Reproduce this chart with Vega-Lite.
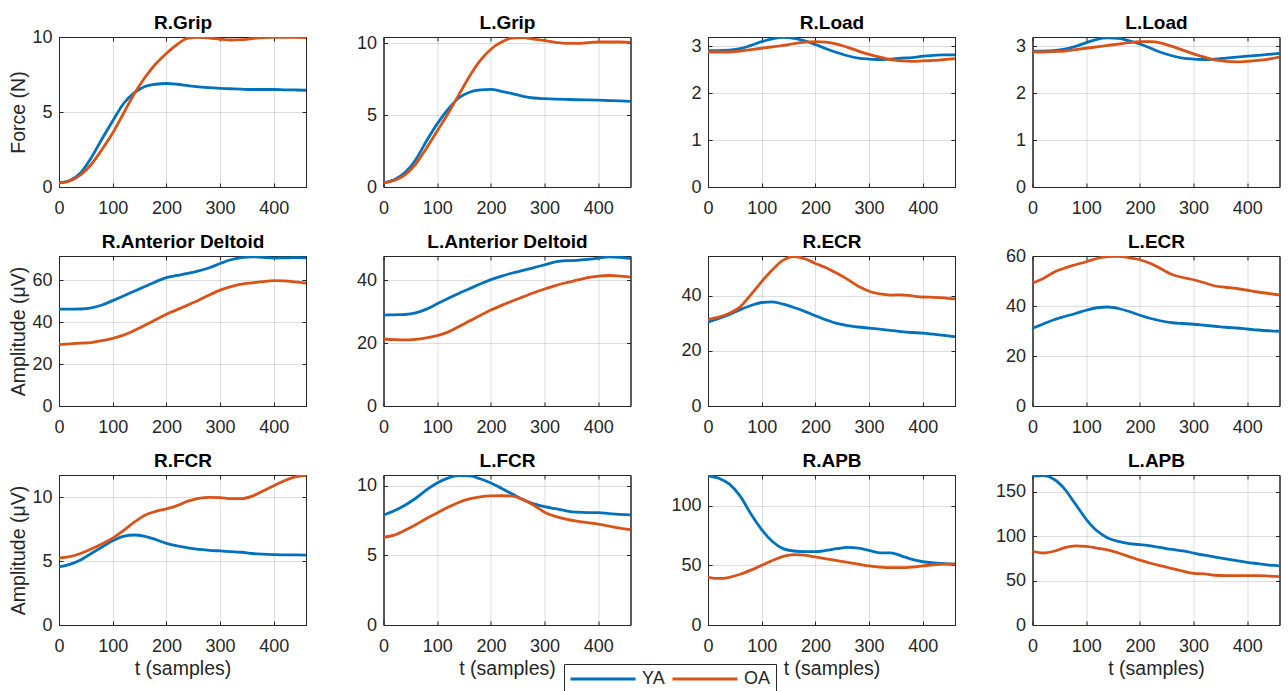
{
"$schema":"https://vega.github.io/schema/vega-lite/v6.json",
"background":"white",
"padding":{"left":8,"top":13,"right":5,"bottom":0},
"bounds":"flush",
"columns":4,
"spacing":{"row":69,"column":77.5},
"datasets":{"d":[
{"p":"RGrip","g":"YA","t":0,"v":0.27},{"p":"RGrip","g":"YA","t":20,"v":0.43},{"p":"RGrip","g":"YA","t":40,"v":0.94},{"p":"RGrip","g":"YA","t":60,"v":1.95},{"p":"RGrip","g":"YA","t":80,"v":3.2},{"p":"RGrip","g":"YA","t":100,"v":4.4},{"p":"RGrip","g":"YA","t":120,"v":5.55},{"p":"RGrip","g":"YA","t":140,"v":6.27},{"p":"RGrip","g":"YA","t":160,"v":6.7},{"p":"RGrip","g":"YA","t":180,"v":6.85},{"p":"RGrip","g":"YA","t":200,"v":6.9},{"p":"RGrip","g":"YA","t":220,"v":6.85},{"p":"RGrip","g":"YA","t":240,"v":6.76},{"p":"RGrip","g":"YA","t":260,"v":6.68},{"p":"RGrip","g":"YA","t":280,"v":6.62},{"p":"RGrip","g":"YA","t":300,"v":6.58},{"p":"RGrip","g":"YA","t":320,"v":6.55},{"p":"RGrip","g":"YA","t":340,"v":6.52},{"p":"RGrip","g":"YA","t":360,"v":6.5},{"p":"RGrip","g":"YA","t":380,"v":6.5},{"p":"RGrip","g":"YA","t":400,"v":6.5},{"p":"RGrip","g":"YA","t":420,"v":6.48},{"p":"RGrip","g":"YA","t":440,"v":6.47},{"p":"RGrip","g":"YA","t":460,"v":6.45},
{"p":"RGrip","g":"OA","t":0,"v":0.27},{"p":"RGrip","g":"OA","t":20,"v":0.4},{"p":"RGrip","g":"OA","t":40,"v":0.8},{"p":"RGrip","g":"OA","t":60,"v":1.5},{"p":"RGrip","g":"OA","t":80,"v":2.5},{"p":"RGrip","g":"OA","t":100,"v":3.6},{"p":"RGrip","g":"OA","t":120,"v":4.9},{"p":"RGrip","g":"OA","t":140,"v":6.2},{"p":"RGrip","g":"OA","t":160,"v":7.3},{"p":"RGrip","g":"OA","t":180,"v":8.2},{"p":"RGrip","g":"OA","t":200,"v":8.9},{"p":"RGrip","g":"OA","t":220,"v":9.5},{"p":"RGrip","g":"OA","t":240,"v":9.93},{"p":"RGrip","g":"OA","t":260,"v":9.98},{"p":"RGrip","g":"OA","t":280,"v":9.93},{"p":"RGrip","g":"OA","t":300,"v":9.85},{"p":"RGrip","g":"OA","t":320,"v":9.8},{"p":"RGrip","g":"OA","t":340,"v":9.82},{"p":"RGrip","g":"OA","t":360,"v":9.9},{"p":"RGrip","g":"OA","t":380,"v":9.96},{"p":"RGrip","g":"OA","t":400,"v":9.98},{"p":"RGrip","g":"OA","t":420,"v":9.98},{"p":"RGrip","g":"OA","t":440,"v":9.98},{"p":"RGrip","g":"OA","t":460,"v":9.96},
{"p":"LGrip","g":"YA","t":0,"v":0.28},{"p":"LGrip","g":"YA","t":20,"v":0.5},{"p":"LGrip","g":"YA","t":40,"v":1.0},{"p":"LGrip","g":"YA","t":60,"v":1.9},{"p":"LGrip","g":"YA","t":80,"v":3.2},{"p":"LGrip","g":"YA","t":100,"v":4.4},{"p":"LGrip","g":"YA","t":120,"v":5.4},{"p":"LGrip","g":"YA","t":140,"v":6.2},{"p":"LGrip","g":"YA","t":160,"v":6.6},{"p":"LGrip","g":"YA","t":180,"v":6.77},{"p":"LGrip","g":"YA","t":200,"v":6.8},{"p":"LGrip","g":"YA","t":220,"v":6.67},{"p":"LGrip","g":"YA","t":240,"v":6.5},{"p":"LGrip","g":"YA","t":260,"v":6.32},{"p":"LGrip","g":"YA","t":280,"v":6.2},{"p":"LGrip","g":"YA","t":300,"v":6.15},{"p":"LGrip","g":"YA","t":320,"v":6.12},{"p":"LGrip","g":"YA","t":340,"v":6.1},{"p":"LGrip","g":"YA","t":360,"v":6.08},{"p":"LGrip","g":"YA","t":380,"v":6.07},{"p":"LGrip","g":"YA","t":400,"v":6.05},{"p":"LGrip","g":"YA","t":420,"v":6.02},{"p":"LGrip","g":"YA","t":440,"v":6.0},{"p":"LGrip","g":"YA","t":460,"v":5.97},
{"p":"LGrip","g":"OA","t":0,"v":0.28},{"p":"LGrip","g":"OA","t":20,"v":0.45},{"p":"LGrip","g":"OA","t":40,"v":0.85},{"p":"LGrip","g":"OA","t":60,"v":1.6},{"p":"LGrip","g":"OA","t":80,"v":2.7},{"p":"LGrip","g":"OA","t":100,"v":3.9},{"p":"LGrip","g":"OA","t":120,"v":5.1},{"p":"LGrip","g":"OA","t":140,"v":6.4},{"p":"LGrip","g":"OA","t":160,"v":7.7},{"p":"LGrip","g":"OA","t":180,"v":8.8},{"p":"LGrip","g":"OA","t":200,"v":9.6},{"p":"LGrip","g":"OA","t":220,"v":10.1},{"p":"LGrip","g":"OA","t":240,"v":10.38},{"p":"LGrip","g":"OA","t":260,"v":10.4},{"p":"LGrip","g":"OA","t":280,"v":10.3},{"p":"LGrip","g":"OA","t":300,"v":10.2},{"p":"LGrip","g":"OA","t":320,"v":10.08},{"p":"LGrip","g":"OA","t":340,"v":10.0},{"p":"LGrip","g":"OA","t":360,"v":10.0},{"p":"LGrip","g":"OA","t":380,"v":10.05},{"p":"LGrip","g":"OA","t":400,"v":10.1},{"p":"LGrip","g":"OA","t":420,"v":10.1},{"p":"LGrip","g":"OA","t":440,"v":10.1},{"p":"LGrip","g":"OA","t":460,"v":10.08},
{"p":"RLoad","g":"YA","t":0,"v":2.91},{"p":"RLoad","g":"YA","t":20,"v":2.91},{"p":"RLoad","g":"YA","t":40,"v":2.92},{"p":"RLoad","g":"YA","t":60,"v":2.95},{"p":"RLoad","g":"YA","t":80,"v":3.02},{"p":"RLoad","g":"YA","t":100,"v":3.1},{"p":"RLoad","g":"YA","t":120,"v":3.16},{"p":"RLoad","g":"YA","t":140,"v":3.19},{"p":"RLoad","g":"YA","t":160,"v":3.17},{"p":"RLoad","g":"YA","t":180,"v":3.12},{"p":"RLoad","g":"YA","t":200,"v":3.04},{"p":"RLoad","g":"YA","t":220,"v":2.95},{"p":"RLoad","g":"YA","t":240,"v":2.87},{"p":"RLoad","g":"YA","t":260,"v":2.8},{"p":"RLoad","g":"YA","t":280,"v":2.75},{"p":"RLoad","g":"YA","t":300,"v":2.73},{"p":"RLoad","g":"YA","t":320,"v":2.72},{"p":"RLoad","g":"YA","t":340,"v":2.73},{"p":"RLoad","g":"YA","t":360,"v":2.75},{"p":"RLoad","g":"YA","t":380,"v":2.76},{"p":"RLoad","g":"YA","t":400,"v":2.79},{"p":"RLoad","g":"YA","t":420,"v":2.81},{"p":"RLoad","g":"YA","t":440,"v":2.82},{"p":"RLoad","g":"YA","t":460,"v":2.82},
{"p":"RLoad","g":"OA","t":0,"v":2.88},{"p":"RLoad","g":"OA","t":20,"v":2.88},{"p":"RLoad","g":"OA","t":40,"v":2.88},{"p":"RLoad","g":"OA","t":60,"v":2.9},{"p":"RLoad","g":"OA","t":80,"v":2.93},{"p":"RLoad","g":"OA","t":100,"v":2.96},{"p":"RLoad","g":"OA","t":120,"v":2.99},{"p":"RLoad","g":"OA","t":140,"v":3.02},{"p":"RLoad","g":"OA","t":160,"v":3.06},{"p":"RLoad","g":"OA","t":180,"v":3.09},{"p":"RLoad","g":"OA","t":200,"v":3.1},{"p":"RLoad","g":"OA","t":220,"v":3.09},{"p":"RLoad","g":"OA","t":240,"v":3.05},{"p":"RLoad","g":"OA","t":260,"v":2.98},{"p":"RLoad","g":"OA","t":280,"v":2.9},{"p":"RLoad","g":"OA","t":300,"v":2.83},{"p":"RLoad","g":"OA","t":320,"v":2.77},{"p":"RLoad","g":"OA","t":340,"v":2.72},{"p":"RLoad","g":"OA","t":360,"v":2.69},{"p":"RLoad","g":"OA","t":380,"v":2.68},{"p":"RLoad","g":"OA","t":400,"v":2.69},{"p":"RLoad","g":"OA","t":420,"v":2.7},{"p":"RLoad","g":"OA","t":440,"v":2.72},{"p":"RLoad","g":"OA","t":460,"v":2.74},
{"p":"LLoad","g":"YA","t":0,"v":2.9},{"p":"LLoad","g":"YA","t":20,"v":2.9},{"p":"LLoad","g":"YA","t":40,"v":2.91},{"p":"LLoad","g":"YA","t":60,"v":2.94},{"p":"LLoad","g":"YA","t":80,"v":3.0},{"p":"LLoad","g":"YA","t":100,"v":3.08},{"p":"LLoad","g":"YA","t":120,"v":3.15},{"p":"LLoad","g":"YA","t":140,"v":3.18},{"p":"LLoad","g":"YA","t":160,"v":3.17},{"p":"LLoad","g":"YA","t":180,"v":3.12},{"p":"LLoad","g":"YA","t":200,"v":3.05},{"p":"LLoad","g":"YA","t":220,"v":2.96},{"p":"LLoad","g":"YA","t":240,"v":2.87},{"p":"LLoad","g":"YA","t":260,"v":2.8},{"p":"LLoad","g":"YA","t":280,"v":2.75},{"p":"LLoad","g":"YA","t":300,"v":2.73},{"p":"LLoad","g":"YA","t":320,"v":2.72},{"p":"LLoad","g":"YA","t":340,"v":2.73},{"p":"LLoad","g":"YA","t":360,"v":2.75},{"p":"LLoad","g":"YA","t":380,"v":2.77},{"p":"LLoad","g":"YA","t":400,"v":2.79},{"p":"LLoad","g":"YA","t":420,"v":2.81},{"p":"LLoad","g":"YA","t":440,"v":2.83},{"p":"LLoad","g":"YA","t":460,"v":2.85},
{"p":"LLoad","g":"OA","t":0,"v":2.88},{"p":"LLoad","g":"OA","t":20,"v":2.88},{"p":"LLoad","g":"OA","t":40,"v":2.89},{"p":"LLoad","g":"OA","t":60,"v":2.9},{"p":"LLoad","g":"OA","t":80,"v":2.93},{"p":"LLoad","g":"OA","t":100,"v":2.96},{"p":"LLoad","g":"OA","t":120,"v":2.99},{"p":"LLoad","g":"OA","t":140,"v":3.02},{"p":"LLoad","g":"OA","t":160,"v":3.05},{"p":"LLoad","g":"OA","t":180,"v":3.08},{"p":"LLoad","g":"OA","t":200,"v":3.1},{"p":"LLoad","g":"OA","t":220,"v":3.1},{"p":"LLoad","g":"OA","t":240,"v":3.07},{"p":"LLoad","g":"OA","t":260,"v":3.0},{"p":"LLoad","g":"OA","t":280,"v":2.92},{"p":"LLoad","g":"OA","t":300,"v":2.84},{"p":"LLoad","g":"OA","t":320,"v":2.77},{"p":"LLoad","g":"OA","t":340,"v":2.71},{"p":"LLoad","g":"OA","t":360,"v":2.68},{"p":"LLoad","g":"OA","t":380,"v":2.67},{"p":"LLoad","g":"OA","t":400,"v":2.68},{"p":"LLoad","g":"OA","t":420,"v":2.7},{"p":"LLoad","g":"OA","t":440,"v":2.73},{"p":"LLoad","g":"OA","t":460,"v":2.77},
{"p":"RAD","g":"YA","t":0,"v":46.2},{"p":"RAD","g":"YA","t":20,"v":46.2},{"p":"RAD","g":"YA","t":40,"v":46.3},{"p":"RAD","g":"YA","t":60,"v":46.8},{"p":"RAD","g":"YA","t":80,"v":48.2},{"p":"RAD","g":"YA","t":100,"v":50.3},{"p":"RAD","g":"YA","t":120,"v":52.5},{"p":"RAD","g":"YA","t":140,"v":54.8},{"p":"RAD","g":"YA","t":160,"v":57.0},{"p":"RAD","g":"YA","t":180,"v":59.3},{"p":"RAD","g":"YA","t":200,"v":61.3},{"p":"RAD","g":"YA","t":220,"v":62.3},{"p":"RAD","g":"YA","t":240,"v":63.3},{"p":"RAD","g":"YA","t":260,"v":64.5},{"p":"RAD","g":"YA","t":280,"v":66.0},{"p":"RAD","g":"YA","t":300,"v":68.0},{"p":"RAD","g":"YA","t":320,"v":69.8},{"p":"RAD","g":"YA","t":340,"v":70.8},{"p":"RAD","g":"YA","t":360,"v":71.2},{"p":"RAD","g":"YA","t":380,"v":71.0},{"p":"RAD","g":"YA","t":400,"v":70.6},{"p":"RAD","g":"YA","t":420,"v":70.7},{"p":"RAD","g":"YA","t":440,"v":70.8},{"p":"RAD","g":"YA","t":460,"v":70.7},
{"p":"RAD","g":"OA","t":0,"v":29.3},{"p":"RAD","g":"OA","t":20,"v":29.7},{"p":"RAD","g":"OA","t":40,"v":30.0},{"p":"RAD","g":"OA","t":60,"v":30.3},{"p":"RAD","g":"OA","t":80,"v":31.2},{"p":"RAD","g":"OA","t":100,"v":32.3},{"p":"RAD","g":"OA","t":120,"v":33.8},{"p":"RAD","g":"OA","t":140,"v":36.0},{"p":"RAD","g":"OA","t":160,"v":38.5},{"p":"RAD","g":"OA","t":180,"v":41.2},{"p":"RAD","g":"OA","t":200,"v":43.8},{"p":"RAD","g":"OA","t":220,"v":46.0},{"p":"RAD","g":"OA","t":240,"v":48.2},{"p":"RAD","g":"OA","t":260,"v":50.5},{"p":"RAD","g":"OA","t":280,"v":53.0},{"p":"RAD","g":"OA","t":300,"v":55.3},{"p":"RAD","g":"OA","t":320,"v":57.0},{"p":"RAD","g":"OA","t":340,"v":58.2},{"p":"RAD","g":"OA","t":360,"v":58.8},{"p":"RAD","g":"OA","t":380,"v":59.4},{"p":"RAD","g":"OA","t":400,"v":59.8},{"p":"RAD","g":"OA","t":420,"v":59.7},{"p":"RAD","g":"OA","t":440,"v":59.2},{"p":"RAD","g":"OA","t":460,"v":58.6},
{"p":"LAD","g":"YA","t":0,"v":28.9},{"p":"LAD","g":"YA","t":20,"v":29.0},{"p":"LAD","g":"YA","t":40,"v":29.1},{"p":"LAD","g":"YA","t":60,"v":29.6},{"p":"LAD","g":"YA","t":80,"v":30.8},{"p":"LAD","g":"YA","t":100,"v":32.5},{"p":"LAD","g":"YA","t":120,"v":34.2},{"p":"LAD","g":"YA","t":140,"v":35.8},{"p":"LAD","g":"YA","t":160,"v":37.3},{"p":"LAD","g":"YA","t":180,"v":38.8},{"p":"LAD","g":"YA","t":200,"v":40.2},{"p":"LAD","g":"YA","t":220,"v":41.3},{"p":"LAD","g":"YA","t":240,"v":42.3},{"p":"LAD","g":"YA","t":260,"v":43.1},{"p":"LAD","g":"YA","t":280,"v":44.0},{"p":"LAD","g":"YA","t":300,"v":44.9},{"p":"LAD","g":"YA","t":320,"v":45.8},{"p":"LAD","g":"YA","t":340,"v":46.2},{"p":"LAD","g":"YA","t":360,"v":46.3},{"p":"LAD","g":"YA","t":380,"v":46.6},{"p":"LAD","g":"YA","t":400,"v":47.0},{"p":"LAD","g":"YA","t":420,"v":47.4},{"p":"LAD","g":"YA","t":440,"v":47.3},{"p":"LAD","g":"YA","t":460,"v":46.9},
{"p":"LAD","g":"OA","t":0,"v":21.3},{"p":"LAD","g":"OA","t":20,"v":21.1},{"p":"LAD","g":"OA","t":40,"v":21.0},{"p":"LAD","g":"OA","t":60,"v":21.2},{"p":"LAD","g":"OA","t":80,"v":21.7},{"p":"LAD","g":"OA","t":100,"v":22.4},{"p":"LAD","g":"OA","t":120,"v":23.5},{"p":"LAD","g":"OA","t":140,"v":25.2},{"p":"LAD","g":"OA","t":160,"v":27.0},{"p":"LAD","g":"OA","t":180,"v":28.8},{"p":"LAD","g":"OA","t":200,"v":30.5},{"p":"LAD","g":"OA","t":220,"v":32.0},{"p":"LAD","g":"OA","t":240,"v":33.4},{"p":"LAD","g":"OA","t":260,"v":34.7},{"p":"LAD","g":"OA","t":280,"v":36.0},{"p":"LAD","g":"OA","t":300,"v":37.2},{"p":"LAD","g":"OA","t":320,"v":38.3},{"p":"LAD","g":"OA","t":340,"v":39.2},{"p":"LAD","g":"OA","t":360,"v":40.0},{"p":"LAD","g":"OA","t":380,"v":40.8},{"p":"LAD","g":"OA","t":400,"v":41.3},{"p":"LAD","g":"OA","t":420,"v":41.5},{"p":"LAD","g":"OA","t":440,"v":41.3},{"p":"LAD","g":"OA","t":460,"v":41.0},
{"p":"RECR","g":"YA","t":0,"v":30.5},{"p":"RECR","g":"YA","t":20,"v":31.8},{"p":"RECR","g":"YA","t":40,"v":33.3},{"p":"RECR","g":"YA","t":60,"v":35.0},{"p":"RECR","g":"YA","t":80,"v":36.5},{"p":"RECR","g":"YA","t":100,"v":37.6},{"p":"RECR","g":"YA","t":120,"v":37.8},{"p":"RECR","g":"YA","t":140,"v":37.0},{"p":"RECR","g":"YA","t":160,"v":35.8},{"p":"RECR","g":"YA","t":180,"v":34.4},{"p":"RECR","g":"YA","t":200,"v":32.8},{"p":"RECR","g":"YA","t":220,"v":31.3},{"p":"RECR","g":"YA","t":240,"v":30.0},{"p":"RECR","g":"YA","t":260,"v":29.2},{"p":"RECR","g":"YA","t":280,"v":28.7},{"p":"RECR","g":"YA","t":300,"v":28.3},{"p":"RECR","g":"YA","t":320,"v":27.9},{"p":"RECR","g":"YA","t":340,"v":27.5},{"p":"RECR","g":"YA","t":360,"v":27.0},{"p":"RECR","g":"YA","t":380,"v":26.7},{"p":"RECR","g":"YA","t":400,"v":26.5},{"p":"RECR","g":"YA","t":420,"v":26.1},{"p":"RECR","g":"YA","t":440,"v":25.7},{"p":"RECR","g":"YA","t":460,"v":25.2},
{"p":"RECR","g":"OA","t":0,"v":31.5},{"p":"RECR","g":"OA","t":20,"v":32.3},{"p":"RECR","g":"OA","t":40,"v":33.7},{"p":"RECR","g":"OA","t":60,"v":36.0},{"p":"RECR","g":"OA","t":80,"v":40.5},{"p":"RECR","g":"OA","t":100,"v":45.2},{"p":"RECR","g":"OA","t":120,"v":49.5},{"p":"RECR","g":"OA","t":140,"v":53.0},{"p":"RECR","g":"OA","t":160,"v":54.3},{"p":"RECR","g":"OA","t":180,"v":53.5},{"p":"RECR","g":"OA","t":200,"v":51.8},{"p":"RECR","g":"OA","t":220,"v":50.2},{"p":"RECR","g":"OA","t":240,"v":48.2},{"p":"RECR","g":"OA","t":260,"v":46.0},{"p":"RECR","g":"OA","t":280,"v":43.5},{"p":"RECR","g":"OA","t":300,"v":41.7},{"p":"RECR","g":"OA","t":320,"v":40.7},{"p":"RECR","g":"OA","t":340,"v":40.3},{"p":"RECR","g":"OA","t":360,"v":40.4},{"p":"RECR","g":"OA","t":380,"v":40.0},{"p":"RECR","g":"OA","t":400,"v":39.6},{"p":"RECR","g":"OA","t":420,"v":39.5},{"p":"RECR","g":"OA","t":440,"v":39.3},{"p":"RECR","g":"OA","t":460,"v":38.9},
{"p":"LECR","g":"YA","t":0,"v":31.1},{"p":"LECR","g":"YA","t":20,"v":32.8},{"p":"LECR","g":"YA","t":40,"v":34.5},{"p":"LECR","g":"YA","t":60,"v":35.8},{"p":"LECR","g":"YA","t":80,"v":37.0},{"p":"LECR","g":"YA","t":100,"v":38.3},{"p":"LECR","g":"YA","t":120,"v":39.3},{"p":"LECR","g":"YA","t":140,"v":39.6},{"p":"LECR","g":"YA","t":160,"v":39.0},{"p":"LECR","g":"YA","t":180,"v":37.8},{"p":"LECR","g":"YA","t":200,"v":36.3},{"p":"LECR","g":"YA","t":220,"v":35.0},{"p":"LECR","g":"YA","t":240,"v":34.0},{"p":"LECR","g":"YA","t":260,"v":33.3},{"p":"LECR","g":"YA","t":280,"v":33.0},{"p":"LECR","g":"YA","t":300,"v":32.7},{"p":"LECR","g":"YA","t":320,"v":32.3},{"p":"LECR","g":"YA","t":340,"v":31.9},{"p":"LECR","g":"YA","t":360,"v":31.5},{"p":"LECR","g":"YA","t":380,"v":31.2},{"p":"LECR","g":"YA","t":400,"v":30.8},{"p":"LECR","g":"YA","t":420,"v":30.4},{"p":"LECR","g":"YA","t":440,"v":30.1},{"p":"LECR","g":"YA","t":460,"v":29.9},
{"p":"LECR","g":"OA","t":0,"v":49.2},{"p":"LECR","g":"OA","t":20,"v":51.0},{"p":"LECR","g":"OA","t":40,"v":53.5},{"p":"LECR","g":"OA","t":60,"v":55.2},{"p":"LECR","g":"OA","t":80,"v":56.5},{"p":"LECR","g":"OA","t":100,"v":57.7},{"p":"LECR","g":"OA","t":120,"v":59.0},{"p":"LECR","g":"OA","t":140,"v":59.8},{"p":"LECR","g":"OA","t":160,"v":59.9},{"p":"LECR","g":"OA","t":180,"v":59.3},{"p":"LECR","g":"OA","t":200,"v":58.5},{"p":"LECR","g":"OA","t":220,"v":57.0},{"p":"LECR","g":"OA","t":240,"v":54.8},{"p":"LECR","g":"OA","t":260,"v":52.6},{"p":"LECR","g":"OA","t":280,"v":51.4},{"p":"LECR","g":"OA","t":300,"v":50.5},{"p":"LECR","g":"OA","t":320,"v":49.3},{"p":"LECR","g":"OA","t":340,"v":48.0},{"p":"LECR","g":"OA","t":360,"v":47.5},{"p":"LECR","g":"OA","t":380,"v":47.0},{"p":"LECR","g":"OA","t":400,"v":46.3},{"p":"LECR","g":"OA","t":420,"v":45.6},{"p":"LECR","g":"OA","t":440,"v":45.0},{"p":"LECR","g":"OA","t":460,"v":44.4},
{"p":"RFCR","g":"YA","t":0,"v":4.55},{"p":"RFCR","g":"YA","t":20,"v":4.75},{"p":"RFCR","g":"YA","t":40,"v":5.1},{"p":"RFCR","g":"YA","t":60,"v":5.6},{"p":"RFCR","g":"YA","t":80,"v":6.1},{"p":"RFCR","g":"YA","t":100,"v":6.6},{"p":"RFCR","g":"YA","t":120,"v":6.95},{"p":"RFCR","g":"YA","t":140,"v":7.05},{"p":"RFCR","g":"YA","t":160,"v":6.95},{"p":"RFCR","g":"YA","t":180,"v":6.7},{"p":"RFCR","g":"YA","t":200,"v":6.4},{"p":"RFCR","g":"YA","t":220,"v":6.2},{"p":"RFCR","g":"YA","t":240,"v":6.05},{"p":"RFCR","g":"YA","t":260,"v":5.92},{"p":"RFCR","g":"YA","t":280,"v":5.85},{"p":"RFCR","g":"YA","t":300,"v":5.8},{"p":"RFCR","g":"YA","t":320,"v":5.75},{"p":"RFCR","g":"YA","t":340,"v":5.7},{"p":"RFCR","g":"YA","t":360,"v":5.6},{"p":"RFCR","g":"YA","t":380,"v":5.55},{"p":"RFCR","g":"YA","t":400,"v":5.52},{"p":"RFCR","g":"YA","t":420,"v":5.5},{"p":"RFCR","g":"YA","t":440,"v":5.5},{"p":"RFCR","g":"YA","t":460,"v":5.48},
{"p":"RFCR","g":"OA","t":0,"v":5.25},{"p":"RFCR","g":"OA","t":20,"v":5.35},{"p":"RFCR","g":"OA","t":40,"v":5.6},{"p":"RFCR","g":"OA","t":60,"v":5.95},{"p":"RFCR","g":"OA","t":80,"v":6.35},{"p":"RFCR","g":"OA","t":100,"v":6.8},{"p":"RFCR","g":"OA","t":120,"v":7.4},{"p":"RFCR","g":"OA","t":140,"v":8.05},{"p":"RFCR","g":"OA","t":160,"v":8.6},{"p":"RFCR","g":"OA","t":180,"v":8.9},{"p":"RFCR","g":"OA","t":200,"v":9.1},{"p":"RFCR","g":"OA","t":220,"v":9.35},{"p":"RFCR","g":"OA","t":240,"v":9.7},{"p":"RFCR","g":"OA","t":260,"v":9.92},{"p":"RFCR","g":"OA","t":280,"v":10.0},{"p":"RFCR","g":"OA","t":300,"v":9.98},{"p":"RFCR","g":"OA","t":320,"v":9.9},{"p":"RFCR","g":"OA","t":340,"v":9.9},{"p":"RFCR","g":"OA","t":360,"v":10.1},{"p":"RFCR","g":"OA","t":380,"v":10.5},{"p":"RFCR","g":"OA","t":400,"v":10.9},{"p":"RFCR","g":"OA","t":420,"v":11.3},{"p":"RFCR","g":"OA","t":440,"v":11.6},{"p":"RFCR","g":"OA","t":460,"v":11.72},
{"p":"LFCR","g":"YA","t":0,"v":7.9},{"p":"LFCR","g":"YA","t":20,"v":8.2},{"p":"LFCR","g":"YA","t":40,"v":8.6},{"p":"LFCR","g":"YA","t":60,"v":9.1},{"p":"LFCR","g":"YA","t":80,"v":9.7},{"p":"LFCR","g":"YA","t":100,"v":10.2},{"p":"LFCR","g":"YA","t":120,"v":10.55},{"p":"LFCR","g":"YA","t":140,"v":10.72},{"p":"LFCR","g":"YA","t":160,"v":10.7},{"p":"LFCR","g":"YA","t":180,"v":10.5},{"p":"LFCR","g":"YA","t":200,"v":10.2},{"p":"LFCR","g":"YA","t":220,"v":9.8},{"p":"LFCR","g":"YA","t":240,"v":9.4},{"p":"LFCR","g":"YA","t":260,"v":9.0},{"p":"LFCR","g":"YA","t":280,"v":8.7},{"p":"LFCR","g":"YA","t":300,"v":8.5},{"p":"LFCR","g":"YA","t":320,"v":8.35},{"p":"LFCR","g":"YA","t":340,"v":8.2},{"p":"LFCR","g":"YA","t":360,"v":8.1},{"p":"LFCR","g":"YA","t":380,"v":8.07},{"p":"LFCR","g":"YA","t":400,"v":8.07},{"p":"LFCR","g":"YA","t":420,"v":8.0},{"p":"LFCR","g":"YA","t":440,"v":7.95},{"p":"LFCR","g":"YA","t":460,"v":7.9},
{"p":"LFCR","g":"OA","t":0,"v":6.3},{"p":"LFCR","g":"OA","t":20,"v":6.45},{"p":"LFCR","g":"OA","t":40,"v":6.8},{"p":"LFCR","g":"OA","t":60,"v":7.2},{"p":"LFCR","g":"OA","t":80,"v":7.65},{"p":"LFCR","g":"OA","t":100,"v":8.05},{"p":"LFCR","g":"OA","t":120,"v":8.45},{"p":"LFCR","g":"OA","t":140,"v":8.8},{"p":"LFCR","g":"OA","t":160,"v":9.05},{"p":"LFCR","g":"OA","t":180,"v":9.2},{"p":"LFCR","g":"OA","t":200,"v":9.27},{"p":"LFCR","g":"OA","t":220,"v":9.28},{"p":"LFCR","g":"OA","t":240,"v":9.25},{"p":"LFCR","g":"OA","t":260,"v":9.0},{"p":"LFCR","g":"OA","t":280,"v":8.6},{"p":"LFCR","g":"OA","t":300,"v":8.1},{"p":"LFCR","g":"OA","t":320,"v":7.8},{"p":"LFCR","g":"OA","t":340,"v":7.6},{"p":"LFCR","g":"OA","t":360,"v":7.45},{"p":"LFCR","g":"OA","t":380,"v":7.35},{"p":"LFCR","g":"OA","t":400,"v":7.25},{"p":"LFCR","g":"OA","t":420,"v":7.1},{"p":"LFCR","g":"OA","t":440,"v":6.95},{"p":"LFCR","g":"OA","t":460,"v":6.85},
{"p":"RAPB","g":"YA","t":0,"v":125.1},{"p":"RAPB","g":"YA","t":20,"v":123},{"p":"RAPB","g":"YA","t":40,"v":118},{"p":"RAPB","g":"YA","t":60,"v":108},{"p":"RAPB","g":"YA","t":80,"v":93},{"p":"RAPB","g":"YA","t":100,"v":80},{"p":"RAPB","g":"YA","t":120,"v":70},{"p":"RAPB","g":"YA","t":140,"v":64},{"p":"RAPB","g":"YA","t":160,"v":62},{"p":"RAPB","g":"YA","t":180,"v":61.5},{"p":"RAPB","g":"YA","t":200,"v":61.5},{"p":"RAPB","g":"YA","t":220,"v":62.5},{"p":"RAPB","g":"YA","t":240,"v":64},{"p":"RAPB","g":"YA","t":260,"v":65},{"p":"RAPB","g":"YA","t":280,"v":64.5},{"p":"RAPB","g":"YA","t":300,"v":62.5},{"p":"RAPB","g":"YA","t":320,"v":60.5},{"p":"RAPB","g":"YA","t":340,"v":60.5},{"p":"RAPB","g":"YA","t":360,"v":58},{"p":"RAPB","g":"YA","t":380,"v":55},{"p":"RAPB","g":"YA","t":400,"v":53},{"p":"RAPB","g":"YA","t":420,"v":52},{"p":"RAPB","g":"YA","t":440,"v":51.5},{"p":"RAPB","g":"YA","t":460,"v":51},
{"p":"RAPB","g":"OA","t":0,"v":40},{"p":"RAPB","g":"OA","t":20,"v":39},{"p":"RAPB","g":"OA","t":40,"v":40},{"p":"RAPB","g":"OA","t":60,"v":42.5},{"p":"RAPB","g":"OA","t":80,"v":46},{"p":"RAPB","g":"OA","t":100,"v":50},{"p":"RAPB","g":"OA","t":120,"v":54},{"p":"RAPB","g":"OA","t":140,"v":57.5},{"p":"RAPB","g":"OA","t":160,"v":59},{"p":"RAPB","g":"OA","t":180,"v":58.5},{"p":"RAPB","g":"OA","t":200,"v":57},{"p":"RAPB","g":"OA","t":220,"v":55.5},{"p":"RAPB","g":"OA","t":240,"v":54},{"p":"RAPB","g":"OA","t":260,"v":52.5},{"p":"RAPB","g":"OA","t":280,"v":51},{"p":"RAPB","g":"OA","t":300,"v":49.5},{"p":"RAPB","g":"OA","t":320,"v":48.5},{"p":"RAPB","g":"OA","t":340,"v":48},{"p":"RAPB","g":"OA","t":360,"v":48},{"p":"RAPB","g":"OA","t":380,"v":48.5},{"p":"RAPB","g":"OA","t":400,"v":49.5},{"p":"RAPB","g":"OA","t":420,"v":50.5},{"p":"RAPB","g":"OA","t":440,"v":51},{"p":"RAPB","g":"OA","t":460,"v":51},
{"p":"LAPB","g":"YA","t":0,"v":167.6},{"p":"LAPB","g":"YA","t":20,"v":168},{"p":"LAPB","g":"YA","t":40,"v":164},{"p":"LAPB","g":"YA","t":60,"v":153},{"p":"LAPB","g":"YA","t":80,"v":136},{"p":"LAPB","g":"YA","t":100,"v":119},{"p":"LAPB","g":"YA","t":120,"v":106},{"p":"LAPB","g":"YA","t":140,"v":98},{"p":"LAPB","g":"YA","t":160,"v":94},{"p":"LAPB","g":"YA","t":180,"v":91.5},{"p":"LAPB","g":"YA","t":200,"v":90.5},{"p":"LAPB","g":"YA","t":220,"v":89},{"p":"LAPB","g":"YA","t":240,"v":87},{"p":"LAPB","g":"YA","t":260,"v":85},{"p":"LAPB","g":"YA","t":280,"v":83.5},{"p":"LAPB","g":"YA","t":300,"v":81},{"p":"LAPB","g":"YA","t":320,"v":78.5},{"p":"LAPB","g":"YA","t":340,"v":76.5},{"p":"LAPB","g":"YA","t":360,"v":74.5},{"p":"LAPB","g":"YA","t":380,"v":72.5},{"p":"LAPB","g":"YA","t":400,"v":70.5},{"p":"LAPB","g":"YA","t":420,"v":69},{"p":"LAPB","g":"YA","t":440,"v":67.5},{"p":"LAPB","g":"YA","t":460,"v":66.5},
{"p":"LAPB","g":"OA","t":0,"v":83},{"p":"LAPB","g":"OA","t":20,"v":81},{"p":"LAPB","g":"OA","t":40,"v":83},{"p":"LAPB","g":"OA","t":60,"v":87},{"p":"LAPB","g":"OA","t":80,"v":89},{"p":"LAPB","g":"OA","t":100,"v":88.5},{"p":"LAPB","g":"OA","t":120,"v":86.5},{"p":"LAPB","g":"OA","t":140,"v":84.5},{"p":"LAPB","g":"OA","t":160,"v":81},{"p":"LAPB","g":"OA","t":180,"v":77},{"p":"LAPB","g":"OA","t":200,"v":73},{"p":"LAPB","g":"OA","t":220,"v":69.5},{"p":"LAPB","g":"OA","t":240,"v":66.5},{"p":"LAPB","g":"OA","t":260,"v":63.5},{"p":"LAPB","g":"OA","t":280,"v":60.5},{"p":"LAPB","g":"OA","t":300,"v":58},{"p":"LAPB","g":"OA","t":320,"v":57.5},{"p":"LAPB","g":"OA","t":340,"v":56},{"p":"LAPB","g":"OA","t":360,"v":55.5},{"p":"LAPB","g":"OA","t":380,"v":55.5},{"p":"LAPB","g":"OA","t":400,"v":55.5},{"p":"LAPB","g":"OA","t":420,"v":55.5},{"p":"LAPB","g":"OA","t":440,"v":55},{"p":"LAPB","g":"OA","t":460,"v":54.5}
]},
"data":{"name":"d"},
"concat":[
{"width":247,"height":150,"transform":[{"filter":"datum.p==='RGrip'"}],"resolve":{"scale":{"x":"independent","y":"independent"},"axis":{"x":"independent","y":"independent"}},"layer":[
 {"mark":{"type":"line","interpolate":"monotone","strokeWidth":2.8,"clip":true},"encoding":{"x":{"field":"t","type":"quantitative","scale":{"domain":[0,460],"nice":false},"axis":{"values":[0,100,200,300,400],"title":null}},"y":{"field":"v","type":"quantitative","scale":{"domain":[0,10],"nice":false},"axis":{"values":[0,5,10],"title":"Force (N)"}},"color":{"field":"g","type":"nominal","scale":{"domain":["YA","OA"],"range":["#0072BD","#D95319"]},"legend":{"title":null,"orient":"none","direction":"horizontal","legendX":505,"legendY":627,"clipHeight":20}}}},
 {"mark":{"type":"line","strokeOpacity":0,"clip":true},"encoding":{"x":{"field":"t","type":"quantitative","scale":{"domain":[0,460],"nice":false},"axis":{"orient":"top","values":[0,100,200,300,400],"labels":false,"grid":false,"title":"R.Grip"}},"y":{"field":"v","type":"quantitative","scale":{"domain":[0,10],"nice":false},"axis":{"orient":"right","values":[0,5,10],"labels":false,"grid":false,"title":null}}}}]},
{"width":247,"height":150,"transform":[{"filter":"datum.p==='LGrip'"}],"resolve":{"scale":{"x":"independent","y":"independent"},"axis":{"x":"independent","y":"independent"}},"layer":[
 {"mark":{"type":"line","interpolate":"monotone","strokeWidth":2.8,"clip":true},"encoding":{"x":{"field":"t","type":"quantitative","scale":{"domain":[0,460],"nice":false},"axis":{"values":[0,100,200,300,400],"title":null}},"y":{"field":"v","type":"quantitative","scale":{"domain":[0,10.45],"nice":false},"axis":{"values":[0,5,10],"title":null}},"color":{"field":"g","type":"nominal","scale":{"domain":["YA","OA"],"range":["#0072BD","#D95319"]}}}},
 {"mark":{"type":"line","strokeOpacity":0,"clip":true},"encoding":{"x":{"field":"t","type":"quantitative","scale":{"domain":[0,460],"nice":false},"axis":{"orient":"top","values":[0,100,200,300,400],"labels":false,"grid":false,"title":"L.Grip"}},"y":{"field":"v","type":"quantitative","scale":{"domain":[0,10.45],"nice":false},"axis":{"orient":"right","values":[0,5,10],"labels":false,"grid":false,"title":null}}}}]},
{"width":247,"height":150,"transform":[{"filter":"datum.p==='RLoad'"}],"resolve":{"scale":{"x":"independent","y":"independent"},"axis":{"x":"independent","y":"independent"}},"layer":[
 {"mark":{"type":"line","interpolate":"monotone","strokeWidth":2.8,"clip":true},"encoding":{"x":{"field":"t","type":"quantitative","scale":{"domain":[0,460],"nice":false},"axis":{"values":[0,100,200,300,400],"title":null}},"y":{"field":"v","type":"quantitative","scale":{"domain":[0,3.2],"nice":false},"axis":{"values":[0,1,2,3],"title":null}},"color":{"field":"g","type":"nominal","scale":{"domain":["YA","OA"],"range":["#0072BD","#D95319"]}}}},
 {"mark":{"type":"line","strokeOpacity":0,"clip":true},"encoding":{"x":{"field":"t","type":"quantitative","scale":{"domain":[0,460],"nice":false},"axis":{"orient":"top","values":[0,100,200,300,400],"labels":false,"grid":false,"title":"R.Load"}},"y":{"field":"v","type":"quantitative","scale":{"domain":[0,3.2],"nice":false},"axis":{"orient":"right","values":[0,1,2,3],"labels":false,"grid":false,"title":null}}}}]},
{"width":247,"height":150,"transform":[{"filter":"datum.p==='LLoad'"}],"resolve":{"scale":{"x":"independent","y":"independent"},"axis":{"x":"independent","y":"independent"}},"layer":[
 {"mark":{"type":"line","interpolate":"monotone","strokeWidth":2.8,"clip":true},"encoding":{"x":{"field":"t","type":"quantitative","scale":{"domain":[0,460],"nice":false},"axis":{"values":[0,100,200,300,400],"title":null}},"y":{"field":"v","type":"quantitative","scale":{"domain":[0,3.2],"nice":false},"axis":{"values":[0,1,2,3],"title":null}},"color":{"field":"g","type":"nominal","scale":{"domain":["YA","OA"],"range":["#0072BD","#D95319"]}}}},
 {"mark":{"type":"line","strokeOpacity":0,"clip":true},"encoding":{"x":{"field":"t","type":"quantitative","scale":{"domain":[0,460],"nice":false},"axis":{"orient":"top","values":[0,100,200,300,400],"labels":false,"grid":false,"title":"L.Load"}},"y":{"field":"v","type":"quantitative","scale":{"domain":[0,3.2],"nice":false},"axis":{"orient":"right","values":[0,1,2,3],"labels":false,"grid":false,"title":null}}}}]},
{"width":247,"height":150,"transform":[{"filter":"datum.p==='RAD'"}],"resolve":{"scale":{"x":"independent","y":"independent"},"axis":{"x":"independent","y":"independent"}},"layer":[
 {"mark":{"type":"line","interpolate":"monotone","strokeWidth":2.8,"clip":true},"encoding":{"x":{"field":"t","type":"quantitative","scale":{"domain":[0,460],"nice":false},"axis":{"values":[0,100,200,300,400],"title":null}},"y":{"field":"v","type":"quantitative","scale":{"domain":[0,71.6],"nice":false},"axis":{"values":[0,20,40,60],"title":"Amplitude (μV)"}},"color":{"field":"g","type":"nominal","scale":{"domain":["YA","OA"],"range":["#0072BD","#D95319"]}}}},
 {"mark":{"type":"line","strokeOpacity":0,"clip":true},"encoding":{"x":{"field":"t","type":"quantitative","scale":{"domain":[0,460],"nice":false},"axis":{"orient":"top","values":[0,100,200,300,400],"labels":false,"grid":false,"title":"R.Anterior Deltoid"}},"y":{"field":"v","type":"quantitative","scale":{"domain":[0,71.6],"nice":false},"axis":{"orient":"right","values":[0,20,40,60],"labels":false,"grid":false,"title":null}}}}]},
{"width":247,"height":150,"transform":[{"filter":"datum.p==='LAD'"}],"resolve":{"scale":{"x":"independent","y":"independent"},"axis":{"x":"independent","y":"independent"}},"layer":[
 {"mark":{"type":"line","interpolate":"monotone","strokeWidth":2.8,"clip":true},"encoding":{"x":{"field":"t","type":"quantitative","scale":{"domain":[0,460],"nice":false},"axis":{"values":[0,100,200,300,400],"title":null}},"y":{"field":"v","type":"quantitative","scale":{"domain":[0,47.7],"nice":false},"axis":{"values":[0,20,40],"title":null}},"color":{"field":"g","type":"nominal","scale":{"domain":["YA","OA"],"range":["#0072BD","#D95319"]}}}},
 {"mark":{"type":"line","strokeOpacity":0,"clip":true},"encoding":{"x":{"field":"t","type":"quantitative","scale":{"domain":[0,460],"nice":false},"axis":{"orient":"top","values":[0,100,200,300,400],"labels":false,"grid":false,"title":"L.Anterior Deltoid"}},"y":{"field":"v","type":"quantitative","scale":{"domain":[0,47.7],"nice":false},"axis":{"orient":"right","values":[0,20,40],"labels":false,"grid":false,"title":null}}}}]},
{"width":247,"height":150,"transform":[{"filter":"datum.p==='RECR'"}],"resolve":{"scale":{"x":"independent","y":"independent"},"axis":{"x":"independent","y":"independent"}},"layer":[
 {"mark":{"type":"line","interpolate":"monotone","strokeWidth":2.8,"clip":true},"encoding":{"x":{"field":"t","type":"quantitative","scale":{"domain":[0,460],"nice":false},"axis":{"values":[0,100,200,300,400],"title":null}},"y":{"field":"v","type":"quantitative","scale":{"domain":[0,54.5],"nice":false},"axis":{"values":[0,20,40],"title":null}},"color":{"field":"g","type":"nominal","scale":{"domain":["YA","OA"],"range":["#0072BD","#D95319"]}}}},
 {"mark":{"type":"line","strokeOpacity":0,"clip":true},"encoding":{"x":{"field":"t","type":"quantitative","scale":{"domain":[0,460],"nice":false},"axis":{"orient":"top","values":[0,100,200,300,400],"labels":false,"grid":false,"title":"R.ECR"}},"y":{"field":"v","type":"quantitative","scale":{"domain":[0,54.5],"nice":false},"axis":{"orient":"right","values":[0,20,40],"labels":false,"grid":false,"title":null}}}}]},
{"width":247,"height":150,"transform":[{"filter":"datum.p==='LECR'"}],"resolve":{"scale":{"x":"independent","y":"independent"},"axis":{"x":"independent","y":"independent"}},"layer":[
 {"mark":{"type":"line","interpolate":"monotone","strokeWidth":2.8,"clip":true},"encoding":{"x":{"field":"t","type":"quantitative","scale":{"domain":[0,460],"nice":false},"axis":{"values":[0,100,200,300,400],"title":null}},"y":{"field":"v","type":"quantitative","scale":{"domain":[0,60],"nice":false},"axis":{"values":[0,20,40,60],"title":null}},"color":{"field":"g","type":"nominal","scale":{"domain":["YA","OA"],"range":["#0072BD","#D95319"]}}}},
 {"mark":{"type":"line","strokeOpacity":0,"clip":true},"encoding":{"x":{"field":"t","type":"quantitative","scale":{"domain":[0,460],"nice":false},"axis":{"orient":"top","values":[0,100,200,300,400],"labels":false,"grid":false,"title":"L.ECR"}},"y":{"field":"v","type":"quantitative","scale":{"domain":[0,60],"nice":false},"axis":{"orient":"right","values":[0,20,40,60],"labels":false,"grid":false,"title":null}}}}]},
{"width":247,"height":150,"transform":[{"filter":"datum.p==='RFCR'"}],"resolve":{"scale":{"x":"independent","y":"independent"},"axis":{"x":"independent","y":"independent"}},"layer":[
 {"mark":{"type":"line","interpolate":"monotone","strokeWidth":2.8,"clip":true},"encoding":{"x":{"field":"t","type":"quantitative","scale":{"domain":[0,460],"nice":false},"axis":{"values":[0,100,200,300,400],"title":"t (samples)"}},"y":{"field":"v","type":"quantitative","scale":{"domain":[0,11.75],"nice":false},"axis":{"values":[0,5,10],"title":"Amplitude (μV)"}},"color":{"field":"g","type":"nominal","scale":{"domain":["YA","OA"],"range":["#0072BD","#D95319"]}}}},
 {"mark":{"type":"line","strokeOpacity":0,"clip":true},"encoding":{"x":{"field":"t","type":"quantitative","scale":{"domain":[0,460],"nice":false},"axis":{"orient":"top","values":[0,100,200,300,400],"labels":false,"grid":false,"title":"R.FCR"}},"y":{"field":"v","type":"quantitative","scale":{"domain":[0,11.75],"nice":false},"axis":{"orient":"right","values":[0,5,10],"labels":false,"grid":false,"title":null}}}}]},
{"width":247,"height":150,"transform":[{"filter":"datum.p==='LFCR'"}],"resolve":{"scale":{"x":"independent","y":"independent"},"axis":{"x":"independent","y":"independent"}},"layer":[
 {"mark":{"type":"line","interpolate":"monotone","strokeWidth":2.8,"clip":true},"encoding":{"x":{"field":"t","type":"quantitative","scale":{"domain":[0,460],"nice":false},"axis":{"values":[0,100,200,300,400],"title":"t (samples)"}},"y":{"field":"v","type":"quantitative","scale":{"domain":[0,10.77],"nice":false},"axis":{"values":[0,5,10],"title":null}},"color":{"field":"g","type":"nominal","scale":{"domain":["YA","OA"],"range":["#0072BD","#D95319"]}}}},
 {"mark":{"type":"line","strokeOpacity":0,"clip":true},"encoding":{"x":{"field":"t","type":"quantitative","scale":{"domain":[0,460],"nice":false},"axis":{"orient":"top","values":[0,100,200,300,400],"labels":false,"grid":false,"title":"L.FCR"}},"y":{"field":"v","type":"quantitative","scale":{"domain":[0,10.77],"nice":false},"axis":{"orient":"right","values":[0,5,10],"labels":false,"grid":false,"title":null}}}}]},
{"width":247,"height":150,"transform":[{"filter":"datum.p==='RAPB'"}],"resolve":{"scale":{"x":"independent","y":"independent"},"axis":{"x":"independent","y":"independent"}},"layer":[
 {"mark":{"type":"line","interpolate":"monotone","strokeWidth":2.8,"clip":true},"encoding":{"x":{"field":"t","type":"quantitative","scale":{"domain":[0,460],"nice":false},"axis":{"values":[0,100,200,300,400],"title":"t (samples)"}},"y":{"field":"v","type":"quantitative","scale":{"domain":[0,125.7],"nice":false},"axis":{"values":[0,50,100],"title":null}},"color":{"field":"g","type":"nominal","scale":{"domain":["YA","OA"],"range":["#0072BD","#D95319"]}}}},
 {"mark":{"type":"line","strokeOpacity":0,"clip":true},"encoding":{"x":{"field":"t","type":"quantitative","scale":{"domain":[0,460],"nice":false},"axis":{"orient":"top","values":[0,100,200,300,400],"labels":false,"grid":false,"title":"R.APB"}},"y":{"field":"v","type":"quantitative","scale":{"domain":[0,125.7],"nice":false},"axis":{"orient":"right","values":[0,50,100],"labels":false,"grid":false,"title":null}}}}]},
{"width":247,"height":150,"transform":[{"filter":"datum.p==='LAPB'"}],"resolve":{"scale":{"x":"independent","y":"independent"},"axis":{"x":"independent","y":"independent"}},"layer":[
 {"mark":{"type":"line","interpolate":"monotone","strokeWidth":2.8,"clip":true},"encoding":{"x":{"field":"t","type":"quantitative","scale":{"domain":[0,460],"nice":false},"axis":{"values":[0,100,200,300,400],"title":"t (samples)"}},"y":{"field":"v","type":"quantitative","scale":{"domain":[0,168.8],"nice":false},"axis":{"values":[0,50,100,150],"title":null}},"color":{"field":"g","type":"nominal","scale":{"domain":["YA","OA"],"range":["#0072BD","#D95319"]}}}},
 {"mark":{"type":"line","strokeOpacity":0,"clip":true},"encoding":{"x":{"field":"t","type":"quantitative","scale":{"domain":[0,460],"nice":false},"axis":{"orient":"top","values":[0,100,200,300,400],"labels":false,"grid":false,"title":"L.APB"}},"y":{"field":"v","type":"quantitative","scale":{"domain":[0,168.8],"nice":false},"axis":{"orient":"right","values":[0,50,100,150],"labels":false,"grid":false,"title":null}}}}]}
],
"resolve":{"scale":{"x":"independent","y":"independent"}},
"config":{
 "font":"Liberation Sans",
 "view":{"stroke":"#262626","strokeWidth":1},
 "axis":{"labelFont":"Liberation Sans","labelFontSize":18,"labelColor":"#262626","titleFont":"Liberation Sans","titleFontSize":19.5,"titleFontWeight":"normal","titleColor":"#262626","domainColor":"#262626","tickColor":"#262626","tickSize":-4,"gridColor":"#000000","gridOpacity":0.13,"labelFlush":false,"labelOverlap":false},
 "axisBottom":{"labelPadding":16,"titlePadding":4},
 "axisLeft":{"labelPadding":11,"titlePadding":3},
 "axisTop":{"titleFontWeight":"bold","titleFontSize":19,"titleColor":"#000000","titlePadding":4},
 "legend":{"symbolType":"stroke","symbolSize":4225,"symbolStrokeWidth":2.8,"labelFont":"Liberation Sans","labelFontSize":18,"labelColor":"#262626","strokeColor":"#262626","fillColor":"white","padding":5,"columnPadding":6,"labelOffset":5,"clipHeight":20}
}
}
